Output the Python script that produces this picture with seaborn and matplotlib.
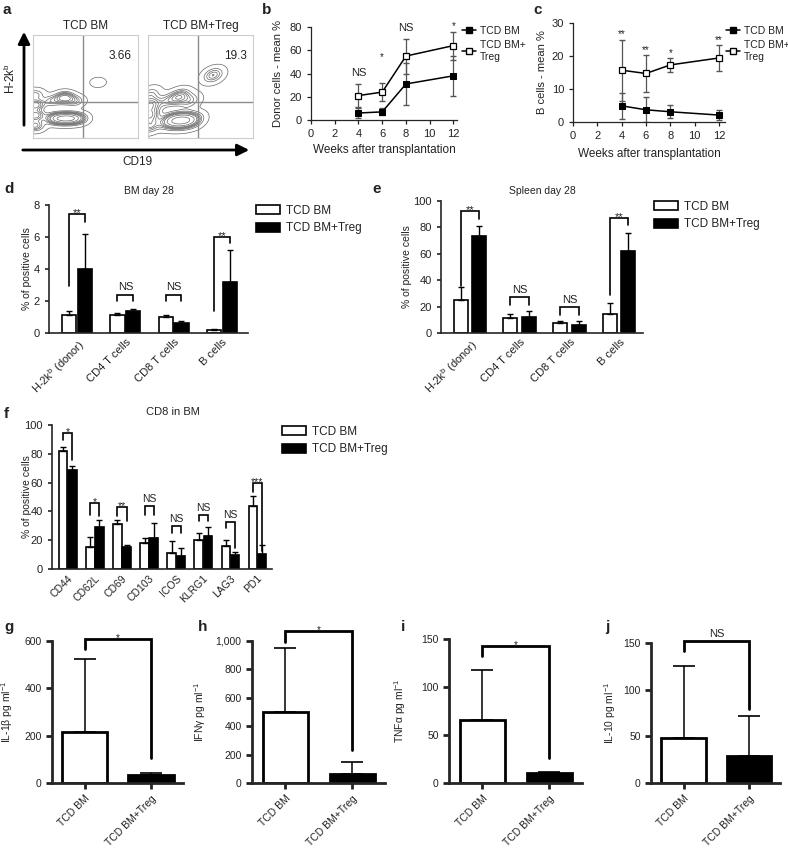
import numpy as np
import pandas as pd
import seaborn as sns
import matplotlib.pyplot as plt
from matplotlib.patches import Patch
from matplotlib.lines import Line2D
from matplotlib.ticker import FuncFormatter

sns.set_style('ticks')
plt.rcParams['font.family'] = ['Liberation Sans', 'DejaVu Sans']
plt.rcParams['mathtext.fontset'] = 'custom'
plt.rcParams['mathtext.rm'] = 'Liberation Sans'
plt.rcParams['mathtext.it'] = 'Liberation Sans:italic'
plt.rcParams['mathtext.bf'] = 'Liberation Sans:bold'
plt.rcParams['text.color'] = '#222222'
plt.rcParams['axes.labelcolor'] = '#222222'
plt.rcParams['xtick.color'] = '#222222'
plt.rcParams['ytick.color'] = '#222222'

groups = ['TCD BM', 'TCD BM+Treg']

# a - flow plots (population centres, box units 0-100)
flow_pct = ['3.66', '19.3']
flow_x = [2, 2, 2, 2, 18, 30, 40, 20, 28, 36, 44, 62]
flow_y_bm = [12, 22, 32, 42, 36, 39, 36, 19, 19, 19, 19, 54]
flow_y_treg = [12, 22, 32, 42, 36, 40, 36, 17, 17, 17, 17, 61]
flow_w_bm = [3, 4, 4, 2, 2, 5, 2, 4, 6, 6, 3, 0.6]
flow_w_treg = [3, 4, 4, 2, 2, 4, 2, 4, 6, 6, 3, 3]

# b - donor cells
weeks = [4, 6, 8, 12]
donor_bm = [6, 7, 31, 38]
donor_bm_err = [4, 3, 18, 17]
donor_treg = [21, 24, 55, 64]
donor_treg_err = [10, 8, 15, 12]
donor_sig = ['NS', '*', 'NS', '*']
donor_sig_y = [40, 54, 79, 81]

# c - B cells
bcell_bm = [4.9, 3.7, 3.1, 2.1]
bcell_bm_err = [3.9, 3.8, 2.0, 1.4]
bcell_treg = [15.7, 14.7, 17.3, 19.4]
bcell_treg_err = [9.3, 5.7, 2.2, 4.0]
bcell_sig = ['**', '**', '*', '**']
bcell_sig_y = [26.5, 21.8, 20.8, 24.8]

# d - BM day 28
cells = ['H-2k$^{\\mathrm{b}}$ (donor)', 'CD4 T cells', 'CD8 T cells', 'B cells']
bm_d = [1.1, 1.1, 1.0, 0.2]
bm_d_err = [0.3, 0.12, 0.15, 0.08]
treg_d = [4.0, 1.4, 0.65, 3.2]
treg_d_err = [2.2, 0.1, 0.1, 2.0]
sig_d = ['**', 'NS', 'NS', '**']
brk_d = [(2.95, 7.45, 6.95), (2.0, 2.4, 2.0), (2.0, 2.4, 2.0), (1.4, 6.0, 5.6)]

# e - Spleen day 28
bm_e = [25, 11.5, 7.5, 14.5]
bm_e_err = [10, 2.8, 1.3, 8.5]
treg_e = [73.5, 12.5, 5.8, 62]
treg_e_err = [7.5, 4.5, 3.0, 14]
sig_e = ['**', 'NS', 'NS', '**']
brk_e = [(35.7, 92.2, 86), (21.4, 27, 21.4), (13.8, 19.6, 13.8), (29, 87.4, 81.7)]

# f - CD8 in BM
markers = ['CD44', 'CD62L', 'CD69', 'CD103', 'ICOS', 'KLRG1', 'LAG3', 'PD1']
bm_f = [82, 15, 31.5, 18, 11, 20, 15.7, 44]
bm_f_err = [3, 7, 2.2, 3.5, 8.2, 5, 4.2, 6.4]
treg_f = [69, 29, 15, 21.5, 9.3, 23, 10, 10.6]
treg_f_err = [2.6, 4.7, 1.4, 10.5, 5.2, 6, 1.5, 6.3]
sig_f = ['*', '*', '**', 'NS', 'NS', 'NS', 'NS', '***']
brk_f = [(89.6, 94.7, 75.8), (37.6, 45.7, 36.5), (37, 43.4, 33), (37.6, 43.9, 37.6),
         (25, 29.6, 25), (33, 37.6, 33), (28.4, 32.3, 14.5), (53.8, 59.6, 12.2)]

# g-j - cytokines
cyto_names = ['IL-1β pg ml$^{-1}$', 'IFNγ pg ml$^{-1}$', 'TNFα pg ml$^{-1}$', 'IL-10 pg ml$^{-1}$']
cyto_bm = [217, 498, 66, 48]
cyto_bm_err = [305, 450, 52, 77]
cyto_treg = [35, 65, 10, 29.3]
cyto_treg_err = [7, 85, 1.8, 42]
cyto_ymax = [600, 1000, 150, 150]
cyto_step = [200, 200, 50, 50]
cyto_sig = ['*', '*', '*', 'NS']
brk_cyto = [(565, 607, 104), (995, 1072, 232), (132, 142.4, 25.8), (141, 151.8, 79)]

W, H = 788, 850
fig = plt.figure(figsize=(W / 100, H / 100), dpi=100)


def add_ax(l, t, r, b):
    return fig.add_axes([l / W, 1 - b / H, (r - l) / W, (b - t) / H])


def ylabel_at(ax, text, xpx, l, r, size):
    ax.set_ylabel(text, fontsize=size)
    ax.yaxis.set_label_coords((xpx - l) / (r - l), 0.5)


def sig_text(ax, x, y, s, size=7.5):
    off = 3 if s == 'NS' else -1.5
    ax.annotate(s, (x, y), xytext=(0, off), textcoords='offset points',
                ha='center', va='baseline', fontsize=size, annotation_clip=False)


def bracket(ax, x1, x2, spec, lw):
    y1, top, y2 = spec
    ax.plot([x1, x1, x2, x2], [y1, top, top, y2], color='black', lw=lw,
            clip_on=False, solid_joinstyle='miter')


# ---------- a ----------
for i, (yy, ww, pct) in enumerate(zip([flow_y_bm, flow_y_treg], [flow_w_bm, flow_w_treg], flow_pct)):
    l = [33, 148][i]
    ax = add_ax(l, 35, l + 105, 138)
    sns.kdeplot(x=flow_x, y=yy, weights=ww, ax=ax, levels=10, thresh=0.02,
                color='0.4', linewidths=0.5, bw_adjust=0.5, cut=4)
    ax.set_xlim(0, 100)
    ax.set_ylim(0, 100)
    ax.axvline(47.6, color='0.55', lw=1)
    ax.axhline(35, color='0.55', lw=1)
    for sp in ax.spines.values():
        sp.set_color('0.8')
        sp.set_linewidth(0.8)
    ax.set_xticks([])
    ax.set_yticks([])
    ax.set_xlabel('')
    ax.set_ylabel('')
    ax.text(0.83, 0.8, pct, transform=ax.transAxes, ha='center', va='center', fontsize=8.5)
    ax.set_title(groups[i], fontsize=8.5, pad=4)

# ---------- b ----------
def time_course(ax, bm, bm_err, treg, treg_err, sig, sig_y):
    ax.errorbar(weeks, bm, yerr=bm_err, fmt='none', ecolor='#555555', elinewidth=0.9,
                capsize=2.5, zorder=2)
    ax.errorbar(weeks, treg, yerr=treg_err, fmt='none', ecolor='#555555', elinewidth=0.9,
                capsize=2.5, zorder=2)
    sns.lineplot(x=weeks, y=bm, ax=ax, color='black', lw=1.1, marker='s', markersize=4.5,
                 markerfacecolor='black', markeredgecolor='black', zorder=3)
    sns.lineplot(x=weeks, y=treg, ax=ax, color='black', lw=1.1, marker='s', markersize=5,
                 markerfacecolor='white', markeredgecolor='black', markeredgewidth=0.9, zorder=3)
    for w, s, y in zip(weeks, sig, sig_y):
        ax.text(w, y, s, ha='center', va='center', fontsize=8 if s == 'NS' else 7)
    ax.set_xticks(range(0, 13, 2))
    ax.set_xlabel('Weeks after transplantation', fontsize=8.5)
    ax.xaxis.set_label_coords(0.5, -0.26)
    ax.tick_params(labelsize=8, width=0.9, length=3)
    for sp in ['left', 'bottom']:
        ax.spines[sp].set_linewidth(0.9)
    sns.despine(ax=ax)


axb = add_ax(311, 27, 457, 120)
time_course(axb, donor_bm, donor_bm_err, donor_treg, donor_treg_err, donor_sig, donor_sig_y)
axb.set_xlim(0, 12.3)
axb.set_ylim(0, 80)
axb.set_yticks(range(0, 81, 20))
ylabel_at(axb, 'Donor cells - mean %', 283, 311, 457, 8)

axc = add_ax(573, 23, 725, 122)
time_course(axc, bcell_bm, bcell_bm_err, bcell_treg, bcell_treg_err, bcell_sig, bcell_sig_y)
axc.set_xlim(0, 12.5)
axc.set_ylim(0, 30)
axc.set_yticks(range(0, 31, 10))
ylabel_at(axc, 'B cells - mean %', 547, 573, 725, 8)

line_handles = [Line2D([], [], color='black', marker='s', ms=4.5, mfc='black', lw=1.1),
                Line2D([], [], color='black', marker='s', ms=4.5, mfc='white', lw=1.1)]
for ax, xpx in [(axb, 462), (axc, 726)]:
    ax.legend(line_handles, ['TCD BM', 'TCD BM+\nTreg'], loc='upper left',
              bbox_to_anchor=(xpx / W, 1 - 26 / H), bbox_transform=fig.transFigure,
              frameon=False, fontsize=7.5, handlelength=1.3, handletextpad=0.4,
              borderaxespad=0, borderpad=0, labelspacing=0.4)


# ---------- d, e, f ----------
def grouped(ax, cats, bm, bm_err, treg, treg_err, width, gap, sig, brk, lw, fs_sig):
    n = len(cats)
    df = pd.DataFrame({'cat': cats * 2, 'group': [groups[0]] * n + [groups[1]] * n,
                       'val': bm + treg})
    sns.barplot(data=df, x='cat', y='val', hue='group',
                palette={groups[0]: 'white', groups[1]: 'black'}, saturation=1,
                edgecolor='black', linewidth=lw, width=width, gap=gap, errorbar=None,
                ax=ax, legend=False)
    centres = []
    for cont, vals, errs in zip(ax.containers, [bm, treg], [bm_err, treg_err]):
        xs = [b.get_x() + b.get_width() / 2 for b in cont]
        centres.append(xs)
        ax.errorbar(xs, vals, yerr=[np.zeros(n), errs], fmt='none', ecolor='black',
                    elinewidth=1, capsize=2.5, capthick=1)
    for x1, x2, s, spec in zip(centres[0], centres[1], sig, brk):
        bracket(ax, x1, x2, spec, 1.2)
        sig_text(ax, (x1 + x2) / 2, spec[1], s, fs_sig)
    ax.set_xlabel('')
    for sp in ['left', 'bottom']:
        ax.spines[sp].set_linewidth(1.2)
    sns.despine(ax=ax)
    ax.tick_params(axis='y', labelsize=8, width=1.2, length=3)
    ax.tick_params(axis='x', length=0, pad=3)
    for t in ax.get_xticklabels():
        t.set_rotation(45)
        t.set_ha('right')
        t.set_rotation_mode('anchor')


bar_handles = [Patch(facecolor='white', edgecolor='black', lw=1.2),
               Patch(facecolor='black', edgecolor='black', lw=1.2)]

axd = add_ax(49, 205, 248, 333)
grouped(axd, cells, bm_d, bm_d_err, treg_d, treg_d_err, 0.65, 0.1, sig_d, brk_d, 1.2, 8)
axd.set_xlim(-0.58, 3.54)
axd.set_ylim(0, 8)
axd.set_yticks(range(0, 9, 2))
axd.tick_params(axis='x', labelsize=8)
ylabel_at(axd, '% of positive cells', 32, 49, 248, 7.5)
axd.set_title('BM day 28', fontsize=7.5, pad=8)

axe = add_ax(441, 201, 643, 333)
grouped(axe, cells, bm_e, bm_e_err, treg_e, treg_e_err, 0.75, 0.25, sig_e, brk_e, 1.2, 8)
axe.set_xlim(-0.58, 3.48)
axe.set_ylim(0, 100)
axe.set_yticks(range(0, 101, 20))
axe.tick_params(axis='x', labelsize=8)
ylabel_at(axe, '% of positive cells', 412, 441, 643, 7.5)
axe.set_title('Spleen day 28', fontsize=7.5, pad=5)

axf = add_ax(52, 425, 272, 569)
grouped(axf, markers, bm_f, bm_f_err, treg_f, treg_f_err, 0.67, 0.1, sig_f, brk_f, 1.2, 7.5)
axf.set_xlim(-0.59, 7.55)
axf.set_ylim(0, 100)
axf.set_yticks(range(0, 101, 20))
axf.tick_params(axis='x', labelsize=7.5)
ylabel_at(axf, '% of positive cells', 32, 52, 272, 7.5)

for ax, xpx, ypx in [(axd, 256, 205), (axe, 654, 201), (axf, 282, 426)]:
    ax.legend(bar_handles, groups, loc='upper left',
              bbox_to_anchor=(xpx / W, 1 - ypx / H), bbox_transform=fig.transFigure,
              frameon=False, fontsize=8.5, handlelength=2.0, handleheight=0.8,
              handletextpad=0.5, borderaxespad=0, borderpad=0, labelspacing=0.45)

# ---------- g-j ----------
cyto_boxes = [(52, 641, 183, 783), (252, 641, 385, 783), (449, 639, 582, 783), (651, 643, 780, 783)]
cyto_xlim = [(-0.49, 1.48), (-0.5, 1.49), (-0.5, 1.49), (-0.5, 1.47)]
cyto_label_x = [15, 208, 408, 618]
for k in range(4):
    l, t, r, b = cyto_boxes[k]
    ax = add_ax(l, t, r, b)
    sns.barplot(x=groups, y=[cyto_bm[k], cyto_treg[k]], hue=groups,
                palette={groups[0]: 'white', groups[1]: 'black'}, saturation=1,
                edgecolor='black', linewidth=2, width=0.68, errorbar=None, ax=ax, legend=False)
    ax.errorbar([0, 1], [cyto_bm[k], cyto_treg[k]],
                yerr=[[0, 0], [cyto_bm_err[k], cyto_treg_err[k]]], fmt='none',
                ecolor='black', elinewidth=1.1, capsize=8, capthick=1.2)
    bracket(ax, 0, 1, brk_cyto[k], 2)
    ax.annotate(cyto_sig[k], (0.5, brk_cyto[k][1]), xytext=(0, 3 if cyto_sig[k] == 'NS' else -1.5),
                textcoords='offset points', ha='center', va='baseline',
                fontsize=8 if cyto_sig[k] == 'NS' else 7, annotation_clip=False)
    ax.set_xlim(*cyto_xlim[k])
    ax.set_ylim(0, cyto_ymax[k])
    ax.set_yticks(range(0, cyto_ymax[k] + 1, cyto_step[k]))
    ax.yaxis.set_major_formatter(FuncFormatter(lambda v, p: f'{int(v):,}'))
    for sp in ['left', 'bottom']:
        ax.spines[sp].set_linewidth(2)
    sns.despine(ax=ax)
    ax.tick_params(labelsize=7.5, width=2, length=4)
    for tl in ax.get_xticklabels():
        tl.set_rotation(45)
        tl.set_ha('right')
        tl.set_rotation_mode('anchor')
    ylabel_at(ax, cyto_names[k], cyto_label_x[k], l, r, 7.5)

# ---------- overlay: letters, arrows, axis names for a ----------
ov = fig.add_axes([0, 0, 1, 1])
ov.set_xlim(0, W)
ov.set_ylim(H, 0)
ov.axis('off')
ov.patch.set_alpha(0)
letters = [('a', 3, 14), ('b', 262, 14), ('c', 533, 14), ('d', 4, 193), ('e', 372, 193),
           ('f', 4, 418), ('g', 4, 631), ('h', 198, 631), ('i', 401, 631), ('j', 605, 631)]
for s, x, y in letters:
    ov.text(x, y, s, fontsize=11, fontweight='bold', va='baseline', ha='left')
ov.annotate('', xy=(24, 29), xytext=(24, 128),
            arrowprops=dict(arrowstyle='-|>,head_width=0.35,head_length=0.7', lw=2, color='black'))
ov.annotate('', xy=(252, 150), xytext=(20, 150),
            arrowprops=dict(arrowstyle='-|>,head_width=0.35,head_length=0.7', lw=2, color='black'))
ov.text(10, 78, 'H-2k$^{\\mathrm{b}}$', rotation=90, ha='center', va='center', fontsize=8.5)
ov.text(137, 162, 'CD19', ha='center', va='center', fontsize=8.5)
ov.text(173, 415, 'CD8 in BM', ha='center', va='baseline', fontsize=8)

fig.savefig('out.png', dpi=100)
